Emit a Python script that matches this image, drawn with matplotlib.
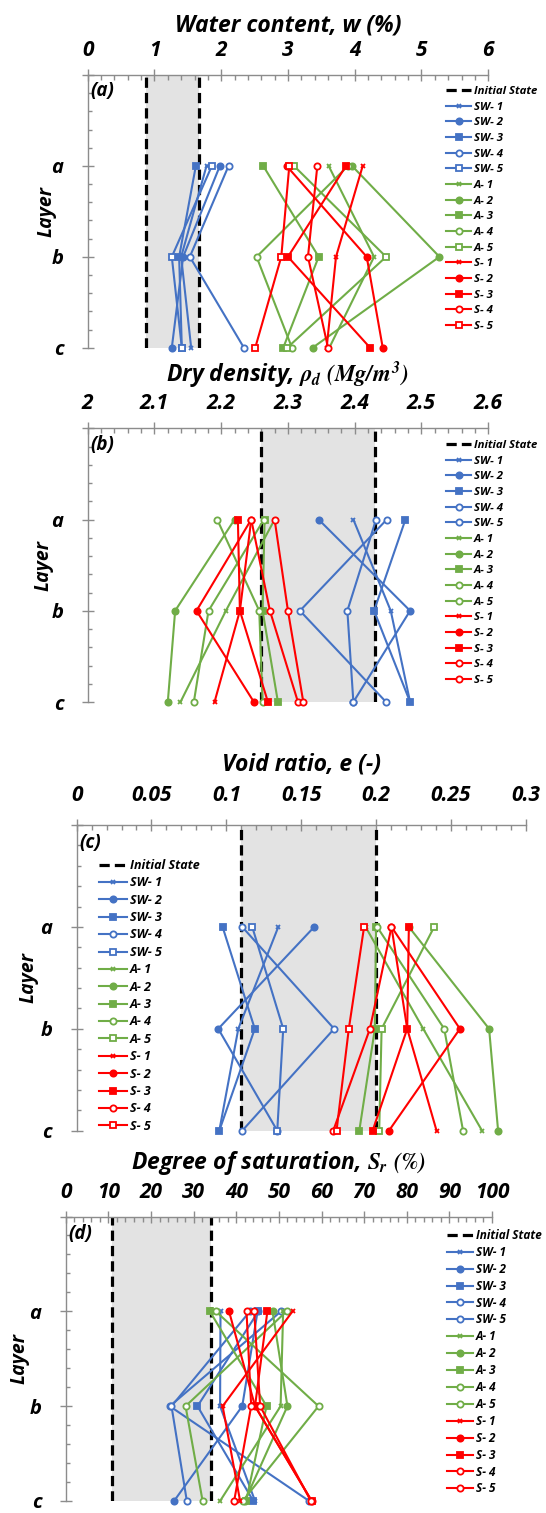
import matplotlib
matplotlib.use("Agg")
import matplotlib.pyplot as plt
from matplotlib.ticker import MultipleLocator

# Layer positions (a, b, c)
warstwy = [2, 1, 0]
nazwySerii = ["SW- 1", "SW- 2", "SW- 3", "SW- 4", "SW- 5",
              "A- 1", "A- 2", "A- 3", "A- 4", "A- 5",
              "S- 1", "S- 2", "S- 3", "S- 4", "S- 5"]

# (a) Water content [a, b, c]
w_SW = [[1.78, 1.40, 1.55], [1.98, 1.43, 1.26], [1.62, 1.37, 1.41],
        [2.11, 1.53, 2.34], [1.86, 1.26, 1.41]]
w_A = [[3.61, 4.29, 3.62], [3.96, 5.27, 3.37], [2.63, 3.46, 2.93],
       [3.90, 2.53, 3.06], [3.09, 4.47, 2.99]]
w_S = [[4.12, 3.72, 3.58], [2.98, 4.18, 4.42], [3.87, 3.00, 4.23],
       [3.44, 3.30, 3.60], [3.02, 2.90, 2.51]]
w_poczatek = [0.88, 1.66]

# (b) Dry density
rho_SW = [[2.398, 2.454, 2.483], [2.346, 2.483, 2.398], [2.476, 2.429, 2.483],
          [2.448, 2.318, 2.447], [2.432, 2.389, 2.398]]
rho_A = [[2.280, 2.207, 2.139], [2.220, 2.131, 2.120], [2.265, 2.262, 2.285],
         [2.264, 2.181, 2.159], [2.194, 2.257, 2.262]]
rho_S = [[2.245, 2.228, 2.190], [2.245, 2.163, 2.249], [2.225, 2.228, 2.270],
         [2.245, 2.273, 2.315], [2.280, 2.300, 2.323]]
rho_poczatek = [2.259, 2.430]

# (c) Void ratio
e_SW = [[0.1347, 0.1080, 0.0953], [0.1587, 0.0946, 0.1340], [0.0975, 0.1190, 0.0953],
        [0.1106, 0.1720, 0.1106], [0.1173, 0.1380, 0.1340]]
e_A = [[0.1930, 0.2315, 0.2708], [0.2219, 0.2755, 0.2815], [0.2000, 0.1992, 0.1888],
       [0.2007, 0.2455, 0.2581], [0.2388, 0.2037, 0.2021]]
e_S = [[0.2103, 0.2208, 0.2404], [0.2103, 0.2560, 0.2086], [0.2219, 0.2208, 0.1977],
       [0.2103, 0.1959, 0.1714], [0.1920, 0.1818, 0.1736]]
e_poczatek = [0.110, 0.200]

# (d) Degree of saturation
sr_SW = [[36.3, 36.2, 44.4], [45.0, 41.4, 25.4], [45.2, 30.9, 44.0],
         [50.5, 24.4, 57.1], [43.2, 24.8, 28.4]]
sr_A = [[51.0, 50.4, 36.2], [48.5, 52.0, 42.0], [33.8, 47.1, 42.3],
        [51.8, 28.1, 32.1], [35.2, 59.3, 41.5]]
sr_S = [[53.2, 36.8, 40.9], [38.3, 44.4, 57.7], [47.3, 44.4, 57.7],
        [42.4, 43.5, 39.5], [44.2, 45.6, 57.5]]
sr_poczatek = [10.9, 34.0]

plt.rcParams['font.family'] = ['Open Sans', 'DejaVu Sans']
plt.rcParams['font.weight'] = 'bold'
plt.rcParams['font.style'] = 'italic'
plt.rcParams['axes.labelweight'] = 'bold'
plt.rcParams['mathtext.fontset'] = 'stix'

W, H = 546, 1513
kolory = {"SW": "#4472C4", "A": "#70AD47", "S": "#FF0000"}
szary = "#8c8c8c"


def pozycja(lewo, prawo, gora, dol):
    return [lewo / W, 1 - dol / H, (prawo - lewo) / W, (dol - gora) / H]


def rysujPanel(rect, grupy, poczatek, xlim, xmajor, xminor, tytul, litera,
               legenda, ostatniKolko, layerX, tytulPad, tickPad):
    ax = fig.add_axes(rect)
    ax.axvspan(poczatek[0], poczatek[1], color="#e3e3e3", lw=0, zorder=0)
    uchwyty = []
    l, = ax.plot([poczatek[0]] * 2, [0, 3], color="black", lw=2.3, dashes=(3.2, 1.6),
                 zorder=2, label="Initial State")
    ax.plot([poczatek[1]] * 2, [0, 3], color="black", lw=2.3, dashes=(3.2, 1.6), zorder=2)
    uchwyty.append(l)
    znaczniki = ["x", "o", "s", "o", ostatniKolko]
    pelne = [True, True, True, False, False]
    k = 0
    for nazwaGrupy, dane in grupy:
        for i, seria in enumerate(dane):
            kol = kolory[nazwaGrupy]
            l, = ax.plot(seria, warstwy, color=kol, lw=1.5, marker=znaczniki[i],
                         ms=3.5 if znaczniki[i] == "x" else 4.5,
                         mew=1.3, mec=kol, mfc=kol if pelne[i] else "white",
                         clip_on=False, zorder=3, label=nazwySerii[k])
            uchwyty.append(l)
            k += 1

    ax.set_xlim(*xlim)
    ax.set_ylim(0, 3)
    for s in ["bottom", "right"]:
        ax.spines[s].set_visible(False)
    for s in ["top", "left"]:
        ax.spines[s].set_color(szary)
        ax.spines[s].set_linewidth(1.0)
    ax.xaxis.tick_top()
    ax.xaxis.set_label_position("top")
    ax.xaxis.set_major_locator(MultipleLocator(xmajor))
    ax.xaxis.set_minor_locator(MultipleLocator(xminor))
    ax.xaxis.set_major_formatter(lambda v, p: f"{v:.10g}")
    ax.set_yticks([0, 1, 2, 3])
    ax.set_yticklabels(["c", "b", "a", ""])
    ax.yaxis.set_minor_locator(MultipleLocator(0.2))
    ax.tick_params(axis="x", which="major", direction="inout", length=8, width=1,
                   color=szary, labelsize=15, pad=tickPad)
    ax.tick_params(axis="x", which="minor", direction="in", length=3.5, width=1, color=szary)
    ax.tick_params(axis="y", which="major", direction="inout", length=9, width=1,
                   color=szary, labelsize=14.5, pad=13)
    ax.tick_params(axis="y", which="minor", direction="in", length=3, width=1, color=szary)
    for t in ax.get_xticklabels() + ax.get_yticklabels():
        t.set_fontweight("bold")
        t.set_fontstyle("italic")
    ax.set_xlabel(tytul, fontsize=16.5, fontweight="bold", labelpad=tytulPad)
    ax.set_ylabel("Layer", fontsize=14, fontweight="bold")
    ax.yaxis.set_label_coords(layerX, 0.5)
    ax.text(0.006, 0.94, litera, transform=ax.transAxes, fontsize=13.5,
            fontweight="bold", ha="left", va="center")

    lx, ly, fs, ls = legenda
    ax.legend(handles=uchwyty, loc="upper left", bbox_to_anchor=(lx / W, 1 - ly / H),
              bbox_transform=fig.transFigure, frameon=False,
              labelspacing=ls, handlelength=2.2, handletextpad=0.25, borderpad=0,
              borderaxespad=0, prop={"size": fs, "weight": "bold", "style": "italic"})
    return ax


fig = plt.figure(figsize=(W / 100, H / 100), dpi=100)

rysujPanel(pozycja(87.7, 488.2, 75, 347.7),
           [("SW", w_SW), ("A", w_A), ("S", w_S)], w_poczatek,
           (0, 6), 1, 0.2, "Water content, w (%)", "(a)",
           (446, 86, 8.2, 0.41), "s", -0.078, 6, 6)

rysujPanel(pozycja(87.7, 488.2, 428.3, 702),
           [("SW", rho_SW), ("A", rho_A), ("S", rho_S)], rho_poczatek,
           (2, 2.6), 0.1, 0.02,
           r"Dry density, $\rho_d\ (Mg/m^3)$", "(b)",
           (446, 440, 8.2, 0.41), "o", -0.085, 8, 6)

rysujPanel(pozycja(76.6, 525.8, 825, 1130.7),
           [("SW", e_SW), ("A", e_A), ("S", e_S)], e_poczatek,
           (0, 0.3), 0.05, 0.01, "Void ratio, e (-)", "(c)",
           (99, 859, 9, 0.35), "s", -0.085, 10, 10)

rysujPanel(pozycja(65.8, 492, 1216.5, 1501),
           [("SW", sr_SW), ("A", sr_A), ("S", sr_S)], sr_poczatek,
           (0, 100), 10, 2, r"Degree of saturation, $S_r$ $(\%)$", "(d)",
           (447, 1229, 8.5, 0.33), "o", -0.085, 9, 6)

fig.savefig("out.png", dpi=100)
